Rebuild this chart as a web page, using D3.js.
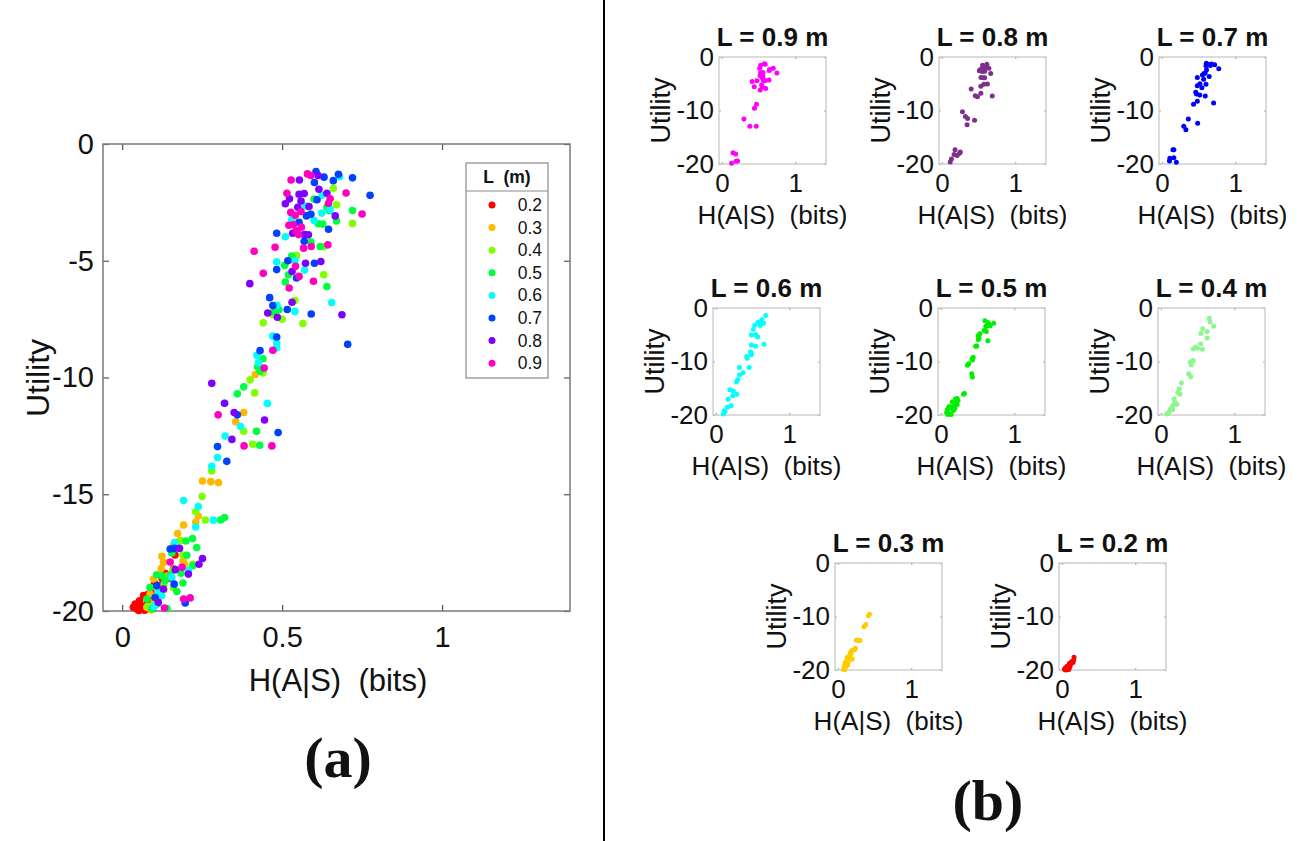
<!DOCTYPE html>
<html><head><meta charset="utf-8">
<script src="https://cdn.jsdelivr.net/npm/d3@7"></script>
<style>
body{margin:0;background:#fff}
text{font-family:"Liberation Sans",Arial,Helvetica,sans-serif;white-space:pre;fill:#111}
</style>
</head><body>
<svg id="c" width="1300" height="841"></svg>
<script>
const levels = ["0.2","0.3","0.4","0.5","0.6","0.7","0.8","0.9"];
const mainColors = ["#ff0000","#ffb800","#80ff00","#00ff40","#00ffff","#0040ff","#8000ff","#ff00bf"];
const panelColors = ["#ff0000","#ffcc00","#8cf78c","#00ee00","#00ffff","#0000ff","#7e2f8e","#ff00ff"];
const panelOrder = ["0.9","0.8","0.7","0.6","0.5","0.4","0.3","0.2"];
const xTicksMain = [0,0.5,1];
const yTicksMain = [0,-5,-10,-15,-20];
const xTicksSmall = [0,1];
const yTicksSmall = [0,-10,-20];

const s02 = [[0.035,-19.84],[0.041,-19.70],[0.046,-19.91],[0.054,-19.56],[0.056,-19.77],[0.062,-19.87],[0.067,-19.34],[0.077,-19.70],[0.070,-19.97],[0.052,-19.98],[0.085,-19.55],[0.090,-19.20],[0.101,-18.80],[0.110,-19.40],[0.120,-18.90],[0.125,-18.60],[0.135,-18.40],[0.150,-18.60],[0.160,-18.20],[0.165,-17.60],[0.095,-19.90],[0.080,-19.30]];
const s03 = [[0.430,-9.60],[0.416,-9.87],[0.380,-11.50],[0.355,-11.90],[0.301,-14.50],[0.277,-14.46],[0.251,-14.43],[0.238,-15.93],[0.230,-16.20],[0.192,-16.32],[0.173,-16.68],[0.181,-16.97],[0.160,-17.20],[0.124,-17.66],[0.190,-17.85],[0.129,-17.92],[0.195,-17.99],[0.122,-18.18],[0.140,-18.50],[0.098,-18.63],[0.110,-19.00],[0.0875,-19.27],[0.100,-19.60],[0.077,-19.84],[0.090,-19.95],[0.130,-19.10]];
const s04 = [[0.660,-1.90],[0.670,-2.60],[0.720,-3.40],[0.570,-3.90],[0.630,-4.40],[0.630,-5.60],[0.545,-4.77],[0.540,-6.70],[0.470,-7.30],[0.500,-7.50],[0.565,-7.69],[0.441,-7.66],[0.440,-9.80],[0.400,-10.10],[0.414,-10.66],[0.380,-12.30],[0.408,-12.86],[0.280,-14.00],[0.250,-15.10],[0.230,-15.75],[0.260,-16.10],[0.180,-17.00],[0.190,-17.60],[0.220,-18.00],[0.160,-18.25],[0.130,-18.90],[0.110,-19.50],[0.080,-19.80],[0.160,-19.00],[0.096,-19.77]];
const s05 = [[0.600,-2.36],[0.640,-2.70],[0.720,-2.85],[0.670,-3.30],[0.613,-3.42],[0.627,-3.43],[0.648,-2.86],[0.619,-4.39],[0.590,-4.20],[0.530,-4.80],[0.508,-5.20],[0.520,-5.60],[0.510,-5.91],[0.640,-6.10],[0.490,-7.10],[0.474,-7.17],[0.440,-9.20],[0.431,-9.73],[0.423,-9.55],[0.380,-10.40],[0.360,-10.70],[0.420,-12.30],[0.430,-12.90],[0.320,-16.00],[0.308,-16.10],[0.220,-16.90],[0.199,-17.00],[0.233,-17.28],[0.155,-17.52],[0.202,-17.61],[0.221,-18.06],[0.184,-18.38],[0.150,-18.46],[0.124,-18.49],[0.108,-18.45],[0.134,-18.70],[0.190,-18.80],[0.171,-19.17],[0.087,-18.99],[0.077,-19.49],[0.093,-19.91],[0.140,-19.90],[0.110,-19.70]];
const s06 = [[0.680,-1.40],[0.625,-2.20],[0.574,-2.66],[0.650,-2.80],[0.624,-2.96],[0.530,-3.22],[0.600,-3.28],[0.510,-3.97],[0.540,-5.00],[0.483,-5.04],[0.570,-5.40],[0.484,-6.91],[0.540,-7.17],[0.655,-6.79],[0.471,-8.23],[0.483,-8.52],[0.483,-8.73],[0.421,-9.05],[0.426,-9.37],[0.454,-11.11],[0.320,-11.10],[0.370,-12.10],[0.322,-12.51],[0.298,-13.43],[0.280,-13.80],[0.192,-15.27],[0.238,-15.53],[0.285,-16.11],[0.230,-16.40],[0.164,-17.07],[0.207,-18.27],[0.155,-18.56],[0.113,-19.20],[0.124,-19.34],[0.100,-19.80]];
const s07 = [[0.606,-1.18],[0.631,-1.42],[0.660,-1.57],[0.676,-1.30],[0.601,-1.65],[0.720,-1.45],[0.775,-2.20],[0.609,-2.39],[0.590,-3.01],[0.576,-3.08],[0.553,-3.35],[0.645,-3.65],[0.483,-3.82],[0.569,-4.17],[0.518,-5.00],[0.601,-5.11],[0.483,-5.38],[0.545,-5.74],[0.461,-6.58],[0.471,-6.92],[0.516,-7.09],[0.591,-7.28],[0.483,-8.27],[0.705,-8.58],[0.431,-8.85],[0.360,-11.60],[0.4875,-12.36],[0.298,-12.96],[0.327,-13.59],[0.150,-17.35],[0.1625,-17.32],[0.1625,-18.85],[0.108,-18.92],[0.103,-19.42],[0.197,-19.66]];
const s08 = [[0.554,-1.54],[0.6125,-1.35],[0.615,-1.94],[0.553,-2.15],[0.569,-2.12],[0.640,-2.11],[0.523,-2.35],[0.510,-2.56],[0.559,-2.44],[0.549,-2.71],[0.584,-2.68],[0.666,-3.08],[0.533,-3.82],[0.570,-3.88],[0.582,-3.89],[0.573,-5.11],[0.621,-5.03],[0.531,-5.46],[0.399,-5.98],[0.531,-6.78],[0.455,-7.24],[0.485,-7.42],[0.687,-7.31],[0.280,-10.25],[0.320,-11.10],[0.350,-11.50],[0.445,-11.82],[0.343,-12.65],[0.179,-17.32],[0.251,-17.75],[0.240,-18.00],[0.166,-18.23],[0.207,-18.42],[0.129,-19.06],[0.113,-19.63]];
const s09 = [[0.528,-1.54],[0.579,-1.28],[0.590,-1.35],[0.515,-2.11],[0.700,-2.10],[0.650,-2.35],[0.645,-2.54],[0.527,-2.93],[0.541,-3.05],[0.559,-2.89],[0.750,-3.00],[0.521,-3.48],[0.535,-3.46],[0.560,-3.56],[0.544,-3.72],[0.552,-3.88],[0.591,-4.39],[0.567,-4.46],[0.643,-4.32],[0.478,-4.42],[0.4125,-4.59],[0.542,-5.24],[0.553,-5.67],[0.441,-5.54],[0.598,-5.88],[0.522,-6.17],[0.471,-8.83],[0.444,-9.59],[0.300,-11.60],[0.381,-12.93],[0.468,-12.93],[0.150,-17.90],[0.187,-18.13],[0.192,-19.49],[0.2125,-19.44],[0.132,-19.87]];
const seriesData = [s02,s03,s04,s05,s06,s07,s08,s09];

const svg = d3.select("#c");
const fmt = d => String(d);

// ---------- main panel (a) ----------
const M = {l:103, r:570, t:144, b:611};
const mx = d3.scaleLinear().domain([-0.06,1.4]).range([M.l,M.r]);
const my = d3.scaleLinear().domain([-20,0]).range([M.b,M.t]);
const gm = svg.append("g");

function styleAxis(g, col, fs){
  g.select(".domain").remove();
  g.selectAll(".tick line").attr("stroke",col).attr("stroke-width",1.2);
  g.selectAll(".tick text").attr("font-size",fs).attr("fill","#1a1a1a")
   .attr("font-family",'"Liberation Sans",Arial,Helvetica,sans-serif');
}
gm.append("g").attr("transform",`translate(0,${M.b})`)
  .call(d3.axisBottom(mx).tickValues(xTicksMain).tickFormat(fmt).tickSize(-6).tickPadding(15))
  .call(g=>styleAxis(g,"#555",29));
gm.append("g").attr("transform",`translate(0,${M.t})`)
  .call(d3.axisTop(mx).tickValues(xTicksMain).tickFormat("").tickSize(-6))
  .call(g=>styleAxis(g,"#555",29));
gm.append("g").attr("transform",`translate(${M.l},0)`)
  .call(d3.axisLeft(my).tickValues(yTicksMain).tickFormat(fmt).tickSize(-6).tickPadding(9))
  .call(g=>styleAxis(g,"#555",29));
gm.append("g").attr("transform",`translate(${M.r},0)`)
  .call(d3.axisRight(my).tickValues(yTicksMain).tickFormat("").tickSize(-6))
  .call(g=>styleAxis(g,"#555",29));
gm.append("rect").attr("x",M.l).attr("y",M.t).attr("width",M.r-M.l).attr("height",M.b-M.t)
  .attr("fill","none").attr("stroke","#7a7a7a").attr("stroke-width",1.5);

seriesData.forEach((s,i)=>{
  gm.append("g").selectAll("circle").data(s).join("circle")
    .attr("cx",d=>mx(d[0])).attr("cy",d=>my(d[1])).attr("r",3.8)
    .attr("fill",mainColors[i]);
});

gm.append("text").attr("x",338).attr("y",680).attr("text-anchor","middle")
  .attr("dominant-baseline","central").attr("font-size",31).text("H(A|S)  (bits)");
gm.append("text").attr("transform","translate(38,378) rotate(-90)").attr("text-anchor","middle")
  .attr("dominant-baseline","central").attr("font-size",32).text("Utility");

// legend
const lg = gm.append("g");
lg.append("rect").attr("x",466).attr("y",163).attr("width",82).attr("height",215)
  .attr("fill","#fff").attr("stroke","#8a8a8a").attr("stroke-width",1.2);
lg.append("line").attr("x1",466).attr("x2",548).attr("y1",191).attr("y2",191)
  .attr("stroke","#8a8a8a").attr("stroke-width",1.2);
lg.append("text").attr("x",507).attr("y",177).attr("text-anchor","middle")
  .attr("dominant-baseline","central").attr("font-size",17.5).attr("font-weight","bold").text("L  (m)");
levels.forEach((lv,i)=>{
  const yy = 205 + i*22.6;
  lg.append("circle").attr("cx",492).attr("cy",yy).attr("r",3.5).attr("fill",mainColors[i]);
  lg.append("text").attr("x",542).attr("y",yy).attr("text-anchor","end")
    .attr("dominant-baseline","central").attr("font-size",17.5).text(lv);
});

gm.append("text").attr("x",338).attr("y",757).attr("text-anchor","middle")
  .attr("dominant-baseline","central").attr("font-size",58).attr("font-weight","bold")
  .style("font-family",'"Liberation Serif","Times New Roman",serif').text("(a)");

// divider
svg.append("line").attr("x1",604).attr("x2",604).attr("y1",0).attr("y2",841)
  .attr("stroke","#000").attr("stroke-width",2);

// ---------- small multiples (b) ----------
const panelPos = [[719,57],[939,57],[1159,57],[713,308],[938,308],[1158,308],[835,563],[1059,563]];
const PW = 107, PH = 107;
panelOrder.forEach((lv,k)=>{
  const idx = levels.indexOf(lv);
  const [px,py] = panelPos[k];
  const sx = d3.scaleLinear().domain([-0.04,1.42]).range([px,px+PW]);
  const sy = d3.scaleLinear().domain([-20,0]).range([py+PH,py]);
  const g = svg.append("g");
  g.append("g").attr("transform",`translate(0,${py+PH})`)
    .call(d3.axisBottom(sx).tickValues(xTicksSmall).tickFormat(fmt).tickSize(-2).tickPadding(10))
    .call(a=>styleAxis(a,"#aaa",26));
  g.append("g").attr("transform",`translate(0,${py})`)
    .call(d3.axisTop(sx).tickValues(xTicksSmall).tickFormat("").tickSize(-2))
    .call(a=>styleAxis(a,"#aaa",26));
  g.append("g").attr("transform",`translate(${px},0)`)
    .call(d3.axisLeft(sy).tickValues(yTicksSmall).tickFormat(fmt).tickSize(-2).tickPadding(5))
    .call(a=>styleAxis(a,"#aaa",26));
  g.append("g").attr("transform",`translate(${px+PW},0)`)
    .call(d3.axisRight(sy).tickValues(yTicksSmall).tickFormat("").tickSize(-2))
    .call(a=>styleAxis(a,"#aaa",26));
  g.append("rect").attr("x",px).attr("y",py).attr("width",PW).attr("height",PH)
    .attr("fill","none").attr("stroke","#c4c4c4").attr("stroke-width",1.2);
  g.append("g").selectAll("circle").data(seriesData[idx]).join("circle")
    .attr("cx",d=>sx(d[0])).attr("cy",d=>sy(d[1])).attr("r",2.5)
    .attr("fill",panelColors[idx]);
  g.append("text").attr("x",px+PW/2).attr("y",py-20).attr("text-anchor","middle")
    .attr("dominant-baseline","central").attr("font-size",26).attr("font-weight","bold")
    .text(`L = ${lv} m`);
  g.append("text").attr("x",px+PW/2).attr("y",py+PH+51).attr("text-anchor","middle")
    .attr("dominant-baseline","central").attr("font-size",26).text("H(A|S)  (bits)");
  g.append("text").attr("transform",`translate(${px-58},${py+PH/2}) rotate(-90)`)
    .attr("text-anchor","middle").attr("dominant-baseline","central")
    .attr("font-size",27).text("Utility");
});

svg.append("text").attr("x",988).attr("y",800).attr("text-anchor","middle")
  .attr("dominant-baseline","central").attr("font-size",58).attr("font-weight","bold")
  .style("font-family",'"Liberation Serif","Times New Roman",serif').text("(b)");
</script>
</body></html>
